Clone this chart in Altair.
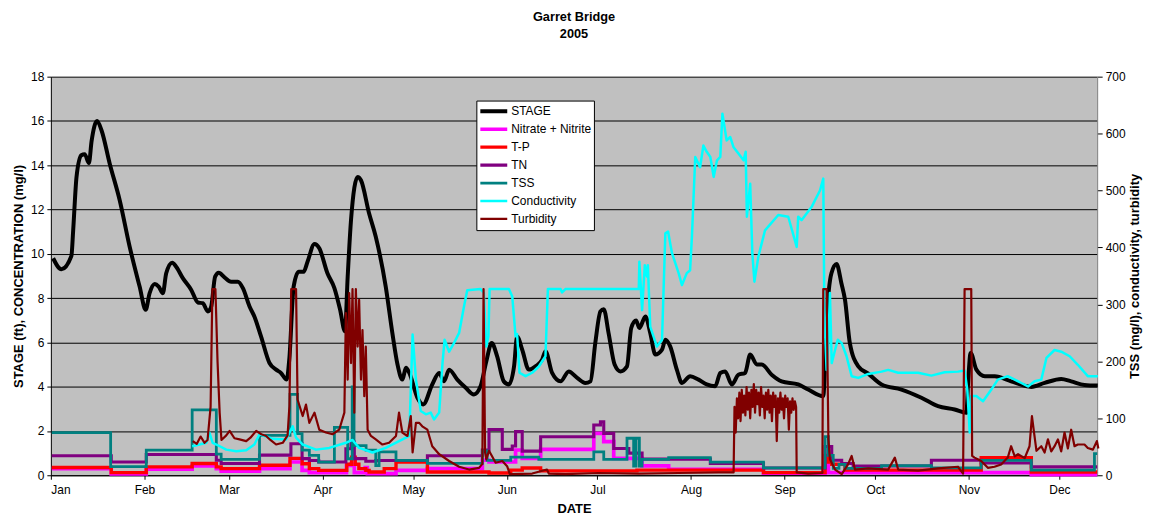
import altair as alt
import pandas as pd

# ---------------- data (day of year 2005, value) ----------------
STAGE_DAY = [0.76, 3.5, 6.8, 7.4, 8.5, 10.1, 11.2, 12.6, 13.5, 15.3, 16.8, 19.5, 22.8, 26.1, 29.4, 31.4, 32.7, 34.4, 35.7, 37.1,
             38.2, 40.2, 41.5, 43.7, 46.5, 48.7, 50.3, 52.0, 53.1, 54.4, 55.6, 57.5, 59.7, 61.9, 63.6, 65.8, 67.4, 69.6, 72.4, 74.6,
             76.2, 78.1, 79.0, 80.4, 82.1, 83.7, 85.0, 87.3, 88.9, 91.6, 93.9, 95.8, 97.4, 98.3, 99.4, 101.6, 102.7, 105.4, 107.6, 110.9,
             113.1, 114.8, 116.4, 117.6, 118.7, 121.4, 123.3, 126.3, 128.6, 130.2, 131.9, 134.6, 137.4, 140.1, 142.3, 144.2, 146.0, 147.8, 150.0, 151.7,
             153.4, 154.4, 156.1, 158.3, 160.5, 162.7, 163.8, 166.0, 168.8, 171.5, 174.3, 177.0, 178.7, 180.3, 182.0, 183.1, 184.7, 186.7, 188.6, 190.8,
             192.2, 193.8, 194.9, 196.9, 198.5, 200.2, 202.4, 203.5, 205.1, 207.3, 209.0, 211.7, 214.5, 217.2, 220.0, 221.7, 223.3, 225.5, 227.7, 229.9,
             231.6, 233.8, 235.4, 238.7, 242.0, 247.5, 250.8, 255.8, 256.9, 258.5, 260.2, 261.8, 263.0, 264.6, 267.4, 270.7, 275.1, 281.7, 288.3, 293.8,
             299.3, 303.2, 303.7, 304.6, 306.5, 309.3, 312.6, 318.0, 324.7, 329.1, 334.6, 337.9, 342.3, 346.7]
STAGE_FT = [9.8, 9.3, 9.9, 11.07, 13.47, 14.45, 14.5, 14.1, 15.1, 16.0, 15.57, 14.07, 12.42, 10.32, 8.52, 7.47, 8.22, 8.64, 8.52, 8.22,
            9.12, 9.6, 9.42, 8.9, 8.37, 7.8, 7.77, 7.4, 7.62, 8.97, 9.15, 8.94, 8.74, 8.74, 8.45, 7.62, 7.17, 6.27, 5.07, 4.77,
            4.62, 4.32, 5.3, 8.52, 9.19, 9.19, 9.64, 10.44, 10.25, 9.12, 8.45, 7.47, 6.5, 8.97, 11.52, 13.47, 13.32, 11.82, 10.77, 8.52,
            6.42, 5.0, 4.32, 4.85, 4.62, 3.5, 3.2, 4.1, 4.62, 4.24, 4.77, 4.32, 3.95, 3.65, 4.02, 5.14, 5.97, 5.37, 4.24, 4.1,
            4.92, 6.27, 5.67, 4.77, 4.92, 5.22, 5.6, 4.62, 4.24, 4.69, 4.4, 4.17, 4.24, 5.97, 7.4, 7.5, 6.42, 5.0, 4.69, 4.92,
            6.65, 6.99, 6.65, 7.17, 6.42, 5.45, 5.67, 6.12, 5.82, 4.77, 4.17, 4.47, 4.32, 4.1, 4.02, 4.62, 4.69, 4.1, 4.54, 4.62,
            5.45, 5.0, 5.0, 4.54, 4.24, 4.1, 3.87, 3.57, 7.02, 9.12, 9.54, 8.67, 7.92, 5.97, 4.92, 4.59, 4.1, 3.87, 3.5, 3.12,
            2.97, 2.82, 4.02, 5.52, 4.77, 4.47, 4.47, 4.24, 3.99, 4.17, 4.35, 4.24, 4.08, 4.05]

NN_DAY = [0.3, 20.0, 31.6, 46.8, 54.8, 56.4, 69.1, 79.2, 83.2, 85.6, 97.9, 99.4, 100.5, 104.1, 104.8, 114.3, 124.7, 142.9, 145.1, 153.9,
          156.1, 162.2, 179.8, 183.1, 186.4, 195.8, 204.6, 236.0, 256.4, 257.5, 324.7, 346.5]
NN_MG = [0.3, 0.06, 0.27, 0.42, 0.3, 0.18, 0.3, 0.6, 0.22, 0.12, 0.45, 0.5, 0.12, 0.35, 0.07, 0.22, 0.3, 0.68, 0.6, 1.14,
         0.76, 1.17, 1.89, 1.52, 0.76, 0.42, 0.27, 0.1, 0.5, 0.12, 0.03, 0.03]

TP_DAY = [0.3, 20.0, 31.6, 46.8, 54.8, 56.4, 69.1, 79.2, 83.2, 85.6, 88.7, 98.0, 99.6, 100.8, 102.0, 104.3, 105.4, 110.4, 114.3, 124.7,
          145.1, 152.3, 156.1, 162.2, 194.1, 236.0, 256.4, 257.5, 258.6, 263.0, 308.1, 324.7, 346.5]
TP_MG = [0.35, 0.12, 0.38, 0.53, 0.38, 0.3, 0.45, 0.76, 0.52, 0.3, 0.22, 0.5, 0.82, 0.5, 0.3, 0.22, 0.15, 0.3, 0.6, 0.15,
         0.1, 0.23, 0.33, 0.2, 0.23, 0.12, 0.9, 0.6, 0.5, 0.23, 0.79, 0.15, 0.15]

TN_DAY = [0.3, 20.0, 31.6, 54.8, 56.4, 69.1, 79.5, 83.2, 85.6, 88.7, 97.7, 99.4, 100.5, 104.3, 107.6, 124.7, 142.9, 145.1, 149.5, 152.8,
          153.9, 156.1, 162.2, 179.8, 182.0, 183.1, 186.4, 191.4, 195.8, 218.4, 236.0, 256.4, 258.6, 261.9, 265.7, 291.6, 308.1, 324.7, 346.5]
TN_MG = [0.88, 0.6, 0.94, 0.68, 0.53, 0.91, 1.42, 0.75, 0.67, 0.6, 1.2, 1.5, 0.75, 0.63, 0.67, 0.88, 1.14, 2.07, 1.17, 1.32,
         1.97, 1.09, 1.74, 2.27, 2.42, 1.89, 1.21, 1.0, 0.73, 0.53, 0.33, 1.3, 0.68, 0.53, 0.42, 0.68, 0.55, 0.38, 0.38]

TSS_DAY = [0.3, 19.8, 31.6, 46.8, 54.8, 56.4, 69.1, 79.2, 81.7, 83.2, 85.6, 88.7, 93.9, 98.3, 99.8, 100.4, 104.4, 107.6, 108.7, 114.3,
           124.7, 142.9, 144.5, 152.3, 161.6, 179.8, 183.1, 190.8, 193.0, 193.8, 194.9, 195.8, 204.6, 218.4, 236.0, 256.4, 257.5, 259.1, 261.0, 263.0,
           275.1, 291.6, 308.1, 324.7, 345.6, 346.5]
TSS_MG = [75, 15, 44, 115, 37, 28, 70, 142, 73, 44, 35, 23, 84, 29, 155, 52, 44, 17, 41, 26,
          21, 43, 26, 32, 28, 41, 28, 65, 16, 65, 16, 28, 31, 23, 13, 68, 35, 12, 19, 12,
          17, 13, 26, 9, 38, 38]

COND_DAY = [46.8, 49.2, 51.5, 52.5, 53.6, 54.8, 58.1, 61.4, 64.7, 67.4, 69.1, 73.5, 77.9, 80.1, 81.2, 83.4, 87.8, 92.2, 97.7, 99.9,
            102.1, 106.5, 110.9, 117.6, 118.7, 119.8, 120.9, 122.5, 124.2, 125.8, 126.9, 128.6, 129.7, 130.4, 131.9, 133.5, 135.2, 136.8, 137.9, 142.3,
            143.4, 144.2, 144.9, 145.3, 151.7, 152.8, 153.9, 154.4, 155.2, 157.2, 159.4, 161.6, 163.8, 164.6, 168.8, 169.3, 170.4, 194.7, 194.9, 195.8,
            196.7, 197.4, 197.7, 198.5, 200.7, 202.4, 203.5, 204.4, 205.7, 207.9, 209.0, 210.6, 211.7, 212.3, 213.4, 215.0, 216.1, 217.2, 218.4, 219.5,
            220.6, 221.7, 222.4, 223.8, 225.0, 226.1, 227.7, 229.4, 230.1, 230.5, 231.6, 232.3, 233.0, 234.3, 236.5, 240.9, 244.2, 247.0, 247.5, 248.6,
            251.9, 254.7, 255.8, 256.1, 256.4, 256.9, 257.5, 258.0, 258.6, 259.7, 260.6, 261.9, 263.5, 265.2, 267.4, 270.7, 275.1, 277.3, 280.6, 287.2,
            291.6, 296.0, 300.4, 302.6, 303.5, 304.3, 304.8, 306.5, 308.7, 311.4, 313.6, 316.9, 319.2, 321.4, 323.6, 325.8, 328.0, 329.7, 332.4, 334.6,
            337.4, 340.1, 343.4, 346.7]
COND_VAL = [51, 54, 57, 75, 57, 54, 45, 42, 44, 54, 72, 64, 63, 86, 66, 54, 45, 48, 57, 62,
            48, 40, 48, 66, 69, 247, 168, 113, 107, 110, 98, 110, 197, 238, 217, 232, 250, 296, 325, 327,
            320, 226, 244, 327, 327, 314, 244, 248, 180, 174, 180, 191, 209, 327, 327, 321, 327, 327, 375, 290,
            369, 349, 369, 261, 226, 238, 425, 428, 390, 355, 334, 355, 360, 419, 559, 541, 579, 568, 559, 524,
            553, 559, 635, 588, 594, 576, 565, 553, 568, 454, 512, 390, 340, 384, 430, 457, 454, 401, 454, 448,
            471, 500, 521, 325, 250, 185, 232, 320, 197, 220, 238, 232, 209, 174, 171, 178, 182, 185, 180, 180,
            175, 181, 182, 184, 150, 75, 139, 139, 130, 150, 168, 174, 168, 162, 156, 165, 168, 206, 220, 217,
            209, 194, 174, 174]

TURB_DAY = [47.0, 48.3, 49.6, 50.9, 51.9, 52.9, 53.5, 54.5, 55.2, 55.9, 56.5, 58.1, 59.2, 60.8, 62.5, 64.7, 66.1, 68.0, 69.7, 71.3,
            72.7, 74.6, 76.8, 78.4, 79.0, 79.6, 81.2, 81.7, 83.4, 84.5, 85.6, 87.3, 88.9, 91.1, 93.3, 95.5, 97.2, 97.7, 98.3, 98.8,
            99.4, 99.9, 100.5, 101.0, 101.6, 102.1, 102.7, 103.2, 103.8, 104.3, 104.9, 106.0, 107.6, 109.8, 112.0, 114.3, 115.3, 116.4, 118.1, 119.2,
            119.8, 120.9, 122.0, 123.0, 124.7, 126.3, 128.6, 131.9, 135.2, 138.5, 141.8, 142.9, 143.3, 143.8, 144.2, 145.1, 147.3, 149.5, 151.1, 152.0,
            159.4, 164.3, 164.9, 170.4, 181.4, 194.7, 207.9, 221.1, 226.1,
            226.4, 226.8, 227.2, 227.6, 228.0, 228.4, 228.8, 229.2, 229.6, 230.0, 230.4, 230.8, 231.2, 231.6, 232.0, 232.4, 232.8, 233.2, 233.6, 234.0,
            234.4, 234.8, 235.2, 235.6, 236.0, 236.4, 236.8, 237.2, 237.6, 238.0, 238.4, 238.8, 239.2, 239.6, 240.0, 240.4, 240.8, 241.2, 241.6, 242.0,
            242.4, 242.8, 243.2, 243.6, 244.0, 244.4, 244.8, 245.2, 245.6, 246.0, 246.4, 246.8,
            247.0, 250.8, 255.5, 255.8, 256.9, 257.5, 258.0, 259.7, 261.9, 264.0, 265.2, 266.3, 270.7, 277.3,
            279.5, 280.6, 287.2, 293.8, 300.4, 302.1, 302.6, 304.8, 305.1, 305.9, 308.1, 310.3, 312.5, 314.7, 316.9, 318.0, 319.2, 320.3, 322.5, 324.1,
            324.9, 325.6, 326.4, 328.0, 329.1, 330.2, 331.3, 332.4, 333.5, 334.6, 335.7, 336.8, 337.9, 339.0, 340.1, 342.3, 343.4, 345.1, 346.4, 346.9]
TURB_VAL = [60, 55, 68, 57, 62, 120, 327, 327, 200, 110, 62, 70, 78, 65, 63, 60, 66, 78, 72, 69,
            62, 54, 57, 70, 121, 327, 327, 133, 104, 124, 92, 110, 80, 75, 72, 80, 110, 285, 168, 320,
            197, 327, 110, 327, 226, 308, 168, 255, 139, 226, 80, 69, 63, 54, 57, 69, 110, 75, 69, 104,
            40, 92, 92, 86, 80, 51, 37, 25, 15, 10, 13, 20, 327, 40, 28, 43, 22, 25, 16, 2,
            3, 10, 3, 2, 4, 3, 4, 5, 5,
            120, 75, 135, 100, 145, 95, 150, 110, 140, 105, 155, 115, 145, 100, 150, 120, 160, 110, 150, 125,
            145, 105, 155, 120, 140, 100, 145, 115, 150, 110, 140, 95, 145, 120, 140, 60, 135, 110, 145, 115,
            135, 100, 140, 120, 135, 80, 130, 110, 135, 115, 130, 120,
            5, 3, 4, 327, 327, 63, 28, 10, 2, 19, 34, 10, 12, 10,
            31, 10, 8, 12, 15, 3, 327, 327, 34, 31, 25, 13, 15, 19, 31, 51, 33, 37, 30, 51,
            104, 75, 43, 51, 40, 63, 42, 51, 63, 42, 75, 47, 80, 51, 54, 54, 48, 45, 60, 47]

SERIES = ["STAGE", "Nitrate + Nitrite", "T-P", "TN", "TSS", "Conductivity", "Turbidity"]
COLORS = ["#000000", "#FF00FF", "#FF0000", "#800080", "#008080", "#00FFFF", "#800000"]
WIDTHS = [4, 2.2, 2, 2, 2, 1.3, 1.2]

BASE = pd.Timestamp("2005-01-01")


def frame(days, vals, name):
    return pd.DataFrame({
        "date": [(BASE + pd.Timedelta(days=d)).strftime("%Y-%m-%dT%H:%M:%S") for d in days],
        "value": vals,
        "series": name,
    })


stage_df = frame(STAGE_DAY, STAGE_FT, "STAGE")
steps_df = pd.concat([frame(NN_DAY, NN_MG, "Nitrate + Nitrite"),
                      frame(TP_DAY, TP_MG, "T-P"),
                      frame(TN_DAY, TN_MG, "TN")])
tss_df = frame(TSS_DAY, TSS_MG, "TSS")
cont_df = pd.concat([frame(COND_DAY, COND_VAL, "Conductivity"),
                     frame(TURB_DAY, TURB_VAL, "Turbidity")])

FONT = "Liberation Sans"

x_enc = alt.X("date:T",
              scale=alt.Scale(domain=[alt.DateTime(year=2005, month=1, date=1),
                                      alt.DateTime(year=2005, month=12, date=13, hours=12)]),
              axis=alt.Axis(title="DATE", format="%b", tickCount={"interval": "month", "step": 1},
                            grid=False, tickSize=4, tickColor="black", domainColor="black",
                            labelFontSize=12, labelColor="black", labelPadding=5,
                            titleFontSize=13, titleFontWeight="bold", titlePadding=7, titleColor="black"))

color_enc = alt.Color("series:N", scale=alt.Scale(domain=SERIES, range=COLORS), legend=alt.Legend(title=None))
width_enc = alt.StrokeWidth("series:N", scale=alt.Scale(domain=SERIES, range=WIDTHS), legend=alt.Legend(title=None))

y_left = alt.Y("value:Q", scale=alt.Scale(domain=[0, 18], nice=False),
               axis=alt.Axis(title="STAGE (ft), CONCENTRATION (mg/l)", values=list(range(0, 19, 2)),
                             grid=True, gridColor="black", gridWidth=1, tickSize=4, tickColor="black",
                             domainColor="black", labelFontSize=12, labelColor="black", labelPadding=3,
                             titleFontSize=13, titleFontWeight="bold", titlePadding=5, titleColor="black"))
y_right = alt.Y("value:Q", scale=alt.Scale(domain=[0, 700], nice=False),
                axis=alt.Axis(orient="right", title="TSS (mg/l), conductivity, turbidity",
                              values=list(range(0, 701, 100)), grid=False, tickSize=5, tickColor="black",
                              domainColor="#808080", labelFontSize=12, labelColor="black", labelPadding=3,
                              titleFontSize=13, titleFontWeight="bold", titlePadding=3, titleColor="black",
                              titleAngle=270, titleBaseline="top"))

stage = alt.Chart(stage_df).mark_line(interpolate="monotone", strokeJoin="round").encode(
    x=x_enc, y=y_left, color=color_enc, strokeWidth=width_enc, detail="series:N")
steps = alt.Chart(steps_df).mark_line(interpolate="step-after").encode(
    x=x_enc, y=y_left, color=color_enc, strokeWidth=width_enc, detail="series:N")
left = alt.layer(stage, steps)

tss = alt.Chart(tss_df).mark_line(interpolate="step-after").encode(
    x=x_enc, y=y_right, color=color_enc, strokeWidth=width_enc, detail="series:N")
cont = alt.Chart(cont_df).mark_line(strokeJoin="round").encode(
    x=x_enc, y=y_right, color=color_enc, strokeWidth=width_enc, detail="series:N")
right = alt.layer(tss, cont)

chart = alt.layer(left, right).resolve_scale(y="independent").properties(
    width=1050, height=400,
    title=alt.TitleParams(["Garret Bridge", "2005"], fontSize=12.8, fontWeight="bold", anchor="middle",
                          font=FONT, color="black", offset=30, lineHeight=17),
    padding={"left": 43, "top": 68, "right": 46, "bottom": 46},
    autosize=alt.AutoSizeParams(type="none"),
).configure(font=FONT).configure_view(fill="#C0C0C0", stroke="transparent").configure_legend(
    orient="none", legendX=427, legendY=24, fillColor="white", strokeColor="black", padding=2,
    symbolType="stroke", symbolSize=729, labelFontSize=12, labelFont=FONT, labelColor="black",
    rowPadding=0, clipHeight=17.5, labelOffset=2, labelLimit=200, cornerRadius=0,
)

chart.save("out.html", embed_options={"renderer": "svg", "actions": False})
